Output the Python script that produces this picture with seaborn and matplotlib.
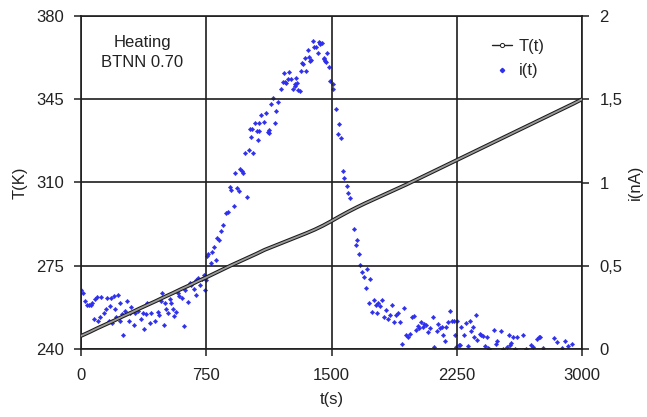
import numpy as np
import pandas as pd
import matplotlib
matplotlib.use("Agg")
import matplotlib.pyplot as plt
import matplotlib.patheffects as pe
import seaborn as sns
from matplotlib.lines import Line2D

# ---------------- data ----------------
T_time = list(range(0, 3001, 50))
T_values = [245.5, 247.1, 248.8, 250.4, 252.0, 253.7, 255.3, 257.0, 258.6, 260.2,
            261.9, 263.5, 265.2, 266.8, 268.5, 270.1, 271.8, 273.5, 275.2, 276.8,
            278.4, 280.0, 281.7, 283.1, 284.5, 285.9, 287.3, 288.7, 290.2, 291.9,
            293.8, 295.8, 297.7, 299.5, 301.2, 302.8, 304.4, 306.0, 307.6, 309.2,
            310.9, 312.6, 314.3, 316.0, 317.7, 319.4, 321.1, 322.8, 324.5, 326.2,
            327.9, 329.6, 331.3, 333.0, 334.7, 336.4, 338.1, 339.8, 341.5, 343.2,
            345.0]

i_time = [1, 9, 25, 37, 45, 57, 65, 77, 81, 97, 101, 113, 121, 137, 149, 153, 165, 173,
          181, 183, 196, 204, 212, 224, 232, 236, 244, 252, 264, 276, 288, 296, 300, 316,
          324, 340, 360, 372, 380, 391, 395, 411, 419, 443, 459, 467, 479, 487, 495, 503,
          511, 519, 531, 539, 551, 559, 571, 579, 587, 606, 614, 622, 638, 650, 658, 674,
          686, 690, 702, 710, 722, 734, 742, 750,
          754, 762, 778, 786, 794, 806, 817, 829, 841, 853, 869, 881, 893, 901, 917, 925,
          933, 945, 953, 965, 973, 985, 993, 1004, 1012, 1020, 1024, 1032, 1040, 1052,
          1060, 1064, 1068, 1080, 1096, 1108, 1120, 1124, 1128, 1140, 1148, 1160, 1168,
          1180, 1196, 1207, 1215, 1219, 1227, 1239, 1247, 1259, 1267, 1279, 1283, 1287,
          1295, 1299, 1311, 1315, 1323, 1327, 1339, 1347, 1359, 1363, 1371, 1379, 1387,
          1398, 1406, 1418, 1426, 1430, 1434, 1442, 1454, 1458, 1462, 1466, 1474, 1486,
          1494, 1506, 1510, 1526, 1538, 1542, 1554, 1566, 1574, 1590, 1598, 1610, 1637,
          1645, 1653, 1665, 1673, 1685, 1697, 1705, 1713, 1725, 1733, 1745, 1757, 1765,
          1773, 1781, 1793, 1801, 1817, 1825, 1837, 1849, 1860, 1876, 1888, 1896, 1912,
          1924, 1936, 1948, 1960, 1968, 1984, 1992, 2004, 2016, 2024, 2035, 2047, 2055,
          2067, 2079, 2091, 2107, 2115, 2131, 2139, 2151, 2159, 2167, 2179, 2187, 2199,
          2207, 2219, 2231, 2238, 2246, 2254, 2262, 2270, 2278, 2294, 2306, 2318, 2330,
          2338, 2346, 2354, 2366, 2374, 2390, 2398, 2406, 2418, 2430, 2437, 2445, 2473,
          2485, 2493, 2517, 2525, 2553, 2561, 2569, 2577, 2589, 2601, 2609, 2644, 2664,
          2696, 2704, 2728, 2740, 2748, 2764, 2831, 2851, 2879, 2899, 2919, 2939]
i_values = [0.354, 0.334, 0.290, 0.264, 0.262, 0.266, 0.274, 0.178, 0.298, 0.310, 0.170,
            0.194, 0.314, 0.218, 0.238, 0.304, 0.170, 0.258, 0.306, 0.154, 0.318, 0.238,
            0.194, 0.326, 0.274, 0.170, 0.210, 0.084, 0.226, 0.286, 0.170, 0.218, 0.254,
            0.146, 0.214, 0.226, 0.182, 0.214, 0.122, 0.210, 0.278, 0.154, 0.214, 0.170,
            0.222, 0.206, 0.290, 0.338, 0.146, 0.274, 0.238, 0.218, 0.302, 0.274, 0.238,
            0.198, 0.222, 0.334, 0.318, 0.306, 0.138, 0.354, 0.282, 0.394, 0.382, 0.358,
            0.322, 0.414, 0.426, 0.386, 0.418, 0.442, 0.354, 0.414,
            0.559, 0.571, 0.519, 0.584, 0.615, 0.535, 0.667, 0.655, 0.707, 0.747, 0.815,
            0.823, 0.971, 0.955, 0.859, 1.055, 0.967, 0.947, 1.083, 1.071, 1.059, 1.175,
            0.915, 1.195, 1.323, 1.271, 1.323, 1.179, 1.359, 1.311, 1.255, 1.359, 1.307,
            1.407, 1.363, 1.419, 1.303, 1.315, 1.295, 1.471, 1.508, 1.359, 1.428, 1.483,
            1.564, 1.604, 1.656, 1.604, 1.600, 1.620, 1.664, 1.620, 1.564, 1.580, 1.590,
            1.628, 1.600, 1.556, 1.552, 1.672, 1.716, 1.710, 1.748, 1.668, 1.796, 1.756,
            1.732, 1.736, 1.852, 1.812, 1.816, 1.776, 1.844, 1.830, 1.836, 1.836, 1.744,
            1.746, 1.730, 1.724, 1.776, 1.696, 1.611, 1.564, 1.592, 1.440, 1.291, 1.351,
            1.267, 1.067, 1.027, 0.979, 0.935, 0.905, 0.723, 0.623, 0.655, 0.571, 0.506,
            0.462, 0.430, 0.366, 0.482, 0.274, 0.418, 0.222, 0.294, 0.266, 0.214, 0.274,
            0.258, 0.294, 0.194, 0.234, 0.178, 0.206, 0.266, 0.162, 0.202, 0.214, 0.162,
            0.030, 0.246, 0.086, 0.074, 0.090, 0.194, 0.198, 0.114, 0.138, 0.126, 0.162,
            0.134, 0.150, 0.146, 0.102, 0.124, 0.190, 0.014, 0.106, 0.150, 0.124, 0.130,
            0.086, 0.046, 0.130, 0.162, 0.226, 0.170, 0.170, 0.086, 0.014, 0.170, 0.022,
            0.022, 0.134, 0.082, 0.158, 0.018, 0.170, 0.106, 0.130, 0.074, 0.202, 0.054,
            0.090, 0.086, 0.078, 0.018, 0.070, 0.006, 0.002, 0.114, 0.030, 0.046, 0.106,
            0.002, 0.014, 0.082, 0.022, 0.038, 0.074, 0.002, 0.074, 0.086, 0.002, 0.022,
            0.014, 0.058, 0.070, 0.074, 0.006, 0.066, 0.042, 0.006, 0.046, 0.018, 0.030]

x_ticks = [0, 750, 1500, 2250, 3000]
T_ticks = [240, 275, 310, 345, 380]
i_ticks = [0, 0.5, 1, 1.5, 2]
i_tick_labels = ["0", "0,5", "1", "1,5", "2"]

# ---------------- style ----------------
sns.set_style("white")
plt.rcParams['font.family'] = ['Liberation Sans', 'DejaVu Sans']
FS = 12
plt.rcParams['font.size'] = FS
ink = "#1e1e1e"
txt = "#222222"

df_T = pd.DataFrame({"t": T_time, "T": T_values})
df_i = pd.DataFrame({"t": i_time, "i": i_values})

fig = plt.figure(figsize=(6.47, 4.17), dpi=100)
ax = fig.add_axes([81 / 647, 1 - 349 / 417, 501 / 647, 333 / 417])
ax2 = ax.twinx()

blue = "#2f2fee"
sns.scatterplot(data=df_i, x="t", y="i", ax=ax2, marker="D", s=5, color=blue,
                edgecolor=blue, linewidth=0.3, legend=False, zorder=3)

sns.lineplot(data=df_T, x="t", y="T", ax=ax, color="#9a9a9a", lw=1.3, zorder=4)
for ln in ax.get_lines():
    ln.set_path_effects([pe.Stroke(linewidth=2.8, foreground="#1a1a1a"), pe.Normal()])

ax.set_zorder(ax2.get_zorder() + 1)
ax.patch.set_visible(False)

ax.set_xlim(0, 3000)
ax.set_ylim(240, 380)
ax2.set_ylim(0, 2)
ax.set_xticks(x_ticks)
ax.set_yticks(T_ticks)
ax2.set_yticks(i_ticks)
ax2.set_yticklabels(i_tick_labels)

ax.grid(True, color=ink, lw=1.2)
for a in (ax, ax2):
    for s in a.spines.values():
        s.set_visible(False)
    a.tick_params(colors=ink, labelcolor=txt, length=5, width=1.1,
                  direction="out", labelsize=FS)
for name in ("top", "left", "bottom"):
    ax.spines[name].set_visible(True)
    ax.spines[name].set_color(ink)
    ax.spines[name].set_linewidth(1.2)
ax2.spines['right'].set_visible(True)
ax2.spines['right'].set_color(ink)
ax2.spines['right'].set_linewidth(1.2)

ax.tick_params(axis="x", pad=9, bottom=True)
ax.tick_params(axis="y", pad=7.5, left=True)
ax2.tick_params(axis="y", pad=7.5, right=True)

ax.set_xlabel("t(s)", fontsize=FS, color=txt, labelpad=6)
ax.set_ylabel("T(K)", fontsize=FS, color=txt, labelpad=6)
ax2.set_ylabel("i(nA)", fontsize=FS, color=txt)
ax2.yaxis.set_label_coords((628 - 81) / 501, 0.5)

ax.text(0.122, 0.89, "Heating\nBTNN 0.70", transform=ax.transAxes, ha="center",
        va="center", fontsize=FS, color=txt, linespacing=1.45)

handles = [
    Line2D([], [], color=txt, lw=1.0, marker="o", markersize=3,
           markerfacecolor="white", markeredgecolor=txt, markeredgewidth=0.7),
    Line2D([], [], color=blue, lw=0, marker="D", markersize=2.2),
]
leg = ax.legend(handles, ["T(t)", "i(t)"], loc="upper right",
                bbox_to_anchor=(0.955, 0.975), frameon=False, fontsize=FS,
                handlelength=1.2, handletextpad=0.4, labelspacing=0.55)

fig.savefig("out.png", dpi=100)
